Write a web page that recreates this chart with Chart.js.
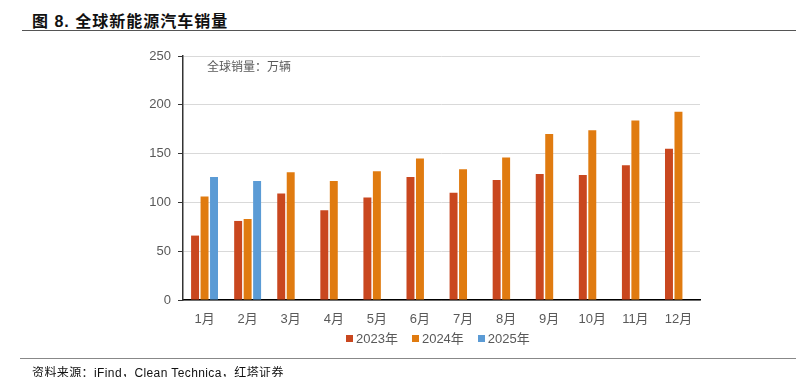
<!DOCTYPE html>
<html>
<head>
<meta charset="utf-8">
<script src="https://cdn.jsdelivr.net/npm/chart.js@4.4.1/dist/chart.umd.min.js"></script>
<style>
  html, body { margin: 0; padding: 0; background: #fff; }
  body { width: 796px; height: 377px; position: relative; overflow: hidden;
         font-family: "Liberation Sans", "Noto Sans CJK SC", sans-serif; }
  #title { position: absolute; left: 32px; top: 8px; font-size: 16px; font-weight: bold; color: #111; letter-spacing: 1px; }
  #topline { position: absolute; left: 22px; right: 0; top: 30px; height: 0; border-top: 1.5px solid #555; }
  #footline { position: absolute; left: 20px; right: 0; top: 358px; height: 0; border-top: 1.5px solid #888; }
  #source { position: absolute; left: 32px; top: 363px; font-size: 12px; color: #111; letter-spacing: 0.4px; }
  #wrap { position: absolute; left: 0; top: 0; width: 796px; height: 377px; }
  #legend { position: absolute; left: 346px; top: 328px; font-size: 13px; color: #595959; white-space: nowrap; }
  #legend span.item { display: inline-block; margin-right: 14px; }
  #legend span.box { display: inline-block; width: 7px; height: 7px; margin-right: 3px; vertical-align: 1px; }
</style>
</head>
<body>
<div id="title">图 8. 全球新能源汽车销量</div>
<div id="topline"></div>
<div id="wrap"><canvas id="chart"></canvas></div>
<div id="legend"></div>
<div id="footline"></div>
<div id="source">资料来源：iFind，Clean Technica，红塔证券</div>
<script>
const months = ['1月', '2月', '3月', '4月', '5月', '6月', '7月', '8月', '9月', '10月', '11月', '12月'];
const sales2023 = [66, 81, 109, 92, 105, 126, 110, 123, 129, 128, 138, 155];
const sales2024 = [106, 83, 131, 122, 132, 145, 134, 146, 170, 174, 184, 193];
const sales2025 = [126, 122, null, null, null, null, null, null, null, null, null, null];
const yTicks = [0, 50, 100, 150, 200, 250];

const grey = '#595959';
const baseFont = '"Liberation Sans", "Noto Sans CJK SC", sans-serif';

// unit note inside the plot
const unitNote = {
    id: 'unitNote',
    afterDraw(chart) {
        const ctx = chart.ctx;
        ctx.save();
        ctx.fillStyle = grey;
        ctx.font = '12px ' + baseFont;
        ctx.textBaseline = 'middle';
        ctx.fillText('全球销量：万辆', chart.chartArea.left + 24, 68);
        ctx.restore();
    }
};

const chart = new Chart(document.getElementById('chart'), {
    type: 'bar',
    data: {
        labels: months,
        datasets: [
            { label: '2023年', data: sales2023, backgroundColor: '#C9471F' },
            { label: '2024年', data: sales2024, backgroundColor: '#E07B10' },
            { label: '2025年', data: sales2025, backgroundColor: '#5B9BD5' }
        ]
    },
    options: {
        responsive: true,
        maintainAspectRatio: false,
        animation: false,
        layout: { padding: { top: 56, right: 96, left: 0, bottom: 47 } },
        datasets: { bar: { barPercentage: 0.84, categoryPercentage: 0.66 } },
        plugins: {
            tooltip: { enabled: false },
            legend: { display: false }
        },
        scales: {
            x: {
                grid: { display: false },
                border: { display: true, color: '#000', width: 1.5 },
                ticks: { color: grey, padding: 4, font: { size: 13, family: baseFont } },
                afterFit(scale) { scale.height = 30; }
            },
            y: {
                min: 0, max: 250,
                afterBuildTicks(scale) { scale.ticks = yTicks.map(v => ({ value: v })); },
                grid: { color: '#d9d9d9', lineWidth: 1, tickColor: '#333', tickLength: 5 },
                border: { display: true, color: '#333', width: 1.5 },
                ticks: { color: grey, padding: 7, font: { size: 13, family: baseFont } },
                afterFit(scale) { scale.width = 183; }
            }
        }
    },
    plugins: [unitNote]
});

// legend built from the chart's datasets
const legendEl = document.getElementById('legend');
chart.data.datasets.forEach(ds => {
    const item = document.createElement('span');
    item.className = 'item';
    item.innerHTML = '<span class="box" style="background:' + ds.backgroundColor + '"></span>' + ds.label;
    legendEl.appendChild(item);
});
</script>
</body>
</html>
